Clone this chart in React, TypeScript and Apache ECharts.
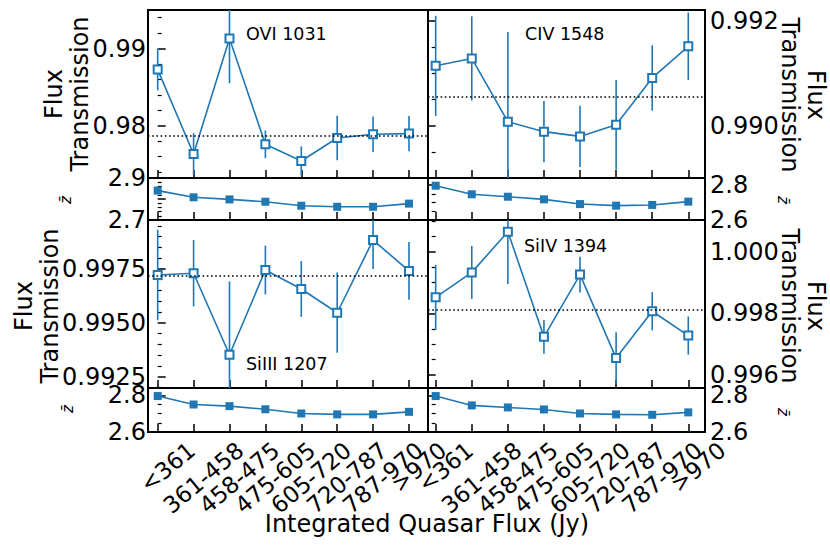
import React, { useEffect, useRef } from "react";
import * as echarts from "echarts";

// ---------- data ----------
const categories = ["<361", "361-458", "458-475", "475-605", "605-720", "720-787", "787-970", ">970"];

const fluxOVI = [0.98727, 0.97631, 0.9913, 0.97757, 0.9754, 0.97839, 0.97887, 0.97896];
const errOVI = [0.0027, 0.0027, 0.0058, 0.0018, 0.0019, 0.0029, 0.0023, 0.0023];
const meanOVI = 0.9787;
const zOVI = [2.84, 2.808, 2.798, 2.787, 2.768, 2.763, 2.763, 2.778];

const fluxCIV = [0.99114, 0.99128, 0.99008, 0.98989, 0.9898, 0.99002, 0.99091, 0.99151];
const errCIV = [0.00095, 0.0008, 0.0017, 0.00058, 0.00058, 0.00085, 0.00062, 0.00064];
const meanCIV = 0.99055;
const zCIV = [2.796, 2.747, 2.733, 2.718, 2.691, 2.682, 2.686, 2.705];

const fluxSiIII = [0.99722, 0.9973, 0.99352, 0.99745, 0.99657, 0.99547, 0.99884, 0.99741];
const errSiIII = [0.0021, 0.00154, 0.0034, 0.00113, 0.00129, 0.00186, 0.00134, 0.00134];
const meanSiIII = 0.99718;
const zSiIII = [2.796, 2.75, 2.741, 2.724, 2.701, 2.696, 2.696, 2.71];

const fluxSiIV = [0.99852, 0.99933, 1.00065, 0.99724, 0.99926, 0.99655, 0.99807, 0.99728];
const errSiIV = [0.00105, 0.00086, 0.0017, 0.00055, 0.00058, 0.00084, 0.00062, 0.00062];
const meanSiIV = 0.99811;
const zSiIV = [2.796, 2.745, 2.734, 2.723, 2.701, 2.696, 2.694, 2.707];

const lineNames = ["OVI 1031", "CIV 1548", "SiIII 1207", "SiIV 1394"];
const xTitle = "Integrated Quasar Flux (Jy)";
const yTitle = "Flux\nTransmission";
const zTitle = "z\u0304";

// ---------- layout / style ----------
const BLUE = "#1f77b4";
const FONT = "DejaVu Sans";
const FS = 24;
const NAME_LH = 26;
const XFS = 23;
const XLH = 27;
const colLeft = [148, 428];
const colWidth = [280, 277];
const xExtent = [
  [-0.27, 7.53],
  [-0.213, 7.463],
];
const mainTop = [10, 220];
const mainH = 168;
const zTop = [178, 388];
const zH = [42, 44];
const ROT = (40 * Math.PI) / 180;

type PanelCfg = {
  flux: number[];
  err: number[];
  mean: number;
  z: number[];
  label: string;
  col: number;
  row: number;
  yMin: number;
  yMax: number;
  yStep: number;
  yDec: number;
  yMinor: number;
  zMin: number;
  zMax: number;
  zStep: number;
  zMinor: number;
  zShowMax: boolean;
  namePos: [number, number];
  zNamePos: [number, number];
  labelPos: [number, number];
};

const panels: PanelCfg[] = [
  {
    flux: fluxOVI, err: errOVI, mean: meanOVI, z: zOVI, label: lineNames[0], col: 0, row: 0,
    yMin: 0.9732, yMax: 0.995, yStep: 0.01, yDec: 2, yMinor: 5,
    zMin: 2.7, zMax: 2.9, zStep: 0.1, zMinor: 5, zShowMax: true,
    namePos: [67, 94], zNamePos: [66, 200], labelPos: [246, 34],
  },
  {
    flux: fluxCIV, err: errCIV, mean: meanCIV, z: zCIV, label: lineNames[1], col: 1, row: 0,
    yMin: 0.98901, yMax: 0.9922, yStep: 0.002, yDec: 3, yMinor: 4,
    zMin: 2.6, zMax: 2.84, zStep: 0.2, zMinor: 4, zShowMax: false,
    namePos: [803, 95], zNamePos: [783, 200], labelPos: [525, 34],
  },
  {
    flux: fluxSiIII, err: errSiIII, mean: meanSiIII, z: zSiIII, label: lineNames[2], col: 0, row: 1,
    yMin: 0.99198, yMax: 0.99977, yStep: 0.0025, yDec: 4, yMinor: 5,
    zMin: 2.6, zMax: 2.84, zStep: 0.2, zMinor: 4, zShowMax: false,
    namePos: [37, 306], zNamePos: [68, 409], labelPos: [246, 364],
  },
  {
    flux: fluxSiIV, err: errSiIV, mean: meanSiIV, z: zSiIV, label: lineNames[3], col: 1, row: 1,
    yMin: 0.99558, yMax: 1.00103, yStep: 0.002, yDec: 3, yMinor: 4,
    zMin: 2.6, zMax: 2.84, zStep: 0.2, zMinor: 4, zShowMax: false,
    namePos: [803, 306], zNamePos: [783, 412], labelPos: [524, 246],
  },
];

const tickStyle = { color: "#000", width: 1.5 };

function buildOption() {
  const grid: any[] = [];
  const xAxis: any[] = [];
  const yAxis: any[] = [];
  const series: any[] = [];

  panels.forEach((p, k) => {
    const side = p.col === 0 ? "left" : "right";
    const mainIdx = 2 * k;
    const zIdx = 2 * k + 1;
    const baseGrid = {
      left: colLeft[p.col],
      width: colWidth[p.col],
      show: true,
      borderColor: "#000",
      borderWidth: 2,
      backgroundColor: "transparent",
      containLabel: false,
    };
    grid.push({ ...baseGrid, top: mainTop[p.row], height: mainH });
    grid.push({ ...baseGrid, top: zTop[p.row], height: zH[p.row] });

    [mainIdx, zIdx].forEach((gi) => {
      xAxis.push({
        gridIndex: gi,
        type: "value",
        min: xExtent[p.col][0],
        max: xExtent[p.col][1],
        minInterval: 1,
        maxInterval: 1,
        axisLine: { show: false },
        axisTick: { show: true, inside: true, length: 8, lineStyle: tickStyle },
        axisLabel: { show: false },
        splitLine: { show: false },
      });
    });

    const commonY = {
      type: "value",
      position: side,
      axisLine: { show: false },
      axisTick: { show: true, inside: true, length: 8, lineStyle: tickStyle },
      splitLine: { show: false },
      minorSplitLine: { show: false },
    };

    const labelBase = {
      show: true,
      fontSize: FS,
      lineHeight: 18,
      color: "#000",
      fontFamily: FONT,
      margin: side === "left" ? 2 : 5,
    };

    yAxis.push({
      ...commonY,
      gridIndex: mainIdx,
      min: p.yMin,
      max: p.yMax,
      minInterval: p.yStep,
      maxInterval: p.yStep,
      minorTick: { show: true, splitNumber: p.yMinor, length: 4, lineStyle: { color: "#000", width: 1.2 } },
      axisLabel: {
        ...labelBase,
        showMinLabel: false,
        showMaxLabel: false,
        formatter: (v: number) => v.toFixed(p.yDec),
      },
    });

    yAxis.push({
      ...commonY,
      gridIndex: zIdx,
      min: p.zMin,
      max: p.zMax,
      minInterval: p.zStep,
      maxInterval: p.zStep,
      minorTick: { show: true, splitNumber: p.zMinor, length: 4, lineStyle: { color: "#000", width: 1.2 } },
      axisLabel: {
        ...labelBase,
        showMinLabel: true,
        showMaxLabel: p.zShowMax,
        formatter: (v: number) => v.toFixed(1),
      },
    });

    // error bars
    series.push({
      type: "custom",
      xAxisIndex: mainIdx,
      yAxisIndex: mainIdx,
      silent: true,
      clip: true,
      z: 1,
      data: p.flux.map((v, i) => [i, v - p.err[i], v + p.err[i]]),
      encode: { x: 0, y: [1, 2] },
      renderItem: (params: any, api: any) => {
        const x = api.value(0);
        const lo = api.coord([x, api.value(1)]);
        const hi = api.coord([x, api.value(2)]);
        const cs = params.coordSys;
        const clamp = (y: number) => Math.max(cs.y, Math.min(cs.y + cs.height, y));
        return {
          type: "line",
          shape: { x1: lo[0], y1: clamp(lo[1]), x2: hi[0], y2: clamp(hi[1]) },
          style: { stroke: BLUE, lineWidth: 1.6 },
        };
      },
    });

    // main line
    series.push({
      type: "line",
      xAxisIndex: mainIdx,
      yAxisIndex: mainIdx,
      silent: true,
      z: 3,
      data: p.flux.map((v, i) => [i, v]),
      symbol: "emptyRect",
      symbolSize: 8,
      showAllSymbol: true,
      lineStyle: { color: BLUE, width: 1.6 },
      itemStyle: { color: BLUE, borderWidth: 1.2 },
      emphasis: { disabled: true },
      markLine: {
        silent: true,
        precision: 6,
        symbol: ["none", "none"],
        label: { show: false },
        lineStyle: { color: "#000", type: [1.6, 2.6], width: 1.6 },
        emphasis: { disabled: true },
        data: [{ yAxis: p.mean }],
      },
    });

    // z line
    series.push({
      type: "line",
      xAxisIndex: zIdx,
      yAxisIndex: zIdx,
      silent: true,
      z: 3,
      data: p.z.map((v, i) => [i, v]),
      symbol: "rect",
      symbolSize: 8,
      showAllSymbol: true,
      lineStyle: { color: BLUE, width: 1.6 },
      itemStyle: { color: BLUE },
      emphasis: { disabled: true },
    });
  });

  return {
    animation: false,
    backgroundColor: "#fff",
    textStyle: { fontFamily: FONT },
    grid,
    xAxis,
    yAxis,
    series,
  };
}

function measure(text: string, font: string): number {
  const c = document.createElement("canvas");
  const ctx = c.getContext("2d");
  if (!ctx) return text.length * 14;
  ctx.font = font;
  return ctx.measureText(text).width;
}

export default function App() {
  const ref = useRef<HTMLDivElement>(null);

  useEffect(() => {
    if (!ref.current) return;
    const chart = echarts.init(ref.current, undefined, { renderer: "svg" });
    chart.setOption(buildOption());

    const graphic: any[] = [];
    const nameFont = `${FS}px "${FONT}"`;
    const xTickFont = `${XFS}px "${FONT}"`;
    const cosR = Math.cos(ROT);
    const sinR = Math.sin(ROT);
    panels.forEach((p, k) => {
      const rot = p.col === 0 ? Math.PI / 2 : -Math.PI / 2;
      // panel annotation
      graphic.push({
        type: "text",
        x: p.labelPos[0],
        y: p.labelPos[1],
        silent: true,
        style: {
          text: p.label,
          fill: "#000",
          font: `17.5px "${FONT}"`,
          align: "left",
          verticalAlign: "middle",
        },
      });
      // y axis title
      graphic.push({
        type: "text",
        x: p.namePos[0],
        y: p.namePos[1],
        rotation: rot,
        silent: true,
        style: {
          text: yTitle,
          fill: "#000",
          font: nameFont,
          lineHeight: NAME_LH,
          align: "center",
          verticalAlign: "middle",
        },
      });
      // z axis title
      graphic.push({
        type: "text",
        x: p.zNamePos[0],
        y: p.zNamePos[1],
        rotation: rot,
        silent: true,
        style: {
          text: zTitle,
          fill: "#000",
          font: `italic 15px "${FONT}"`,
          align: "center",
          verticalAlign: "middle",
        },
      });
      if (p.row === 1) {
        const zIdx = 2 * k + 1;
        categories.forEach((c, i) => {
          const pt = chart.convertToPixel({ gridIndex: zIdx }, [i, p.zMin]) as number[];
          const w = measure(c, xTickFont);
          const dx = (w * cosR - XLH * sinR) / 2 + 9.85;
          graphic.push({
            type: "text",
            x: pt[0] + dx,
            y: pt[1] + 4.5,
            rotation: ROT,
            silent: true,
            style: {
              text: c,
              fill: "#000",
              font: xTickFont,
              lineHeight: XLH,
              align: "right",
              verticalAlign: "top",
            },
          });
        });
      }
    });
    graphic.push({
      type: "text",
      x: 427,
      y: 524,
      silent: true,
      style: {
        text: xTitle,
        fill: "#000",
        font: nameFont,
        align: "center",
        verticalAlign: "middle",
      },
    });
    chart.setOption({ graphic });

    return () => chart.dispose();
  }, []);

  return (
    <div
      ref={ref}
      style={{ position: "absolute", left: 0, top: 0, width: 830, height: 555, background: "#fff" }}
    />
  );
}
